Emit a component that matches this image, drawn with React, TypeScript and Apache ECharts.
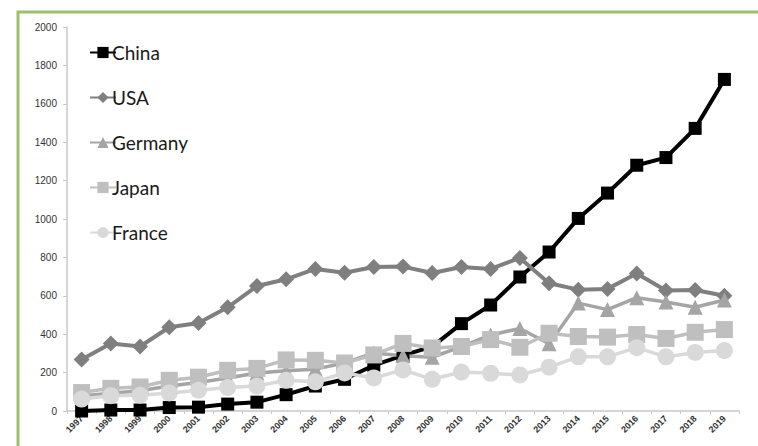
import React, { useEffect, useRef } from "react";
import * as echarts from "echarts";

const years = ["1997","1998","1999","2000","2001","2002","2003","2004","2005","2006","2007","2008","2009","2010","2011","2012","2013","2014","2015","2016","2017","2018","2019"];
const china = [0, 5, 5, 18, 20, 36, 46, 85, 130, 165, 238, 290, 335, 455, 552, 698, 828, 1003, 1135, 1280, 1320, 1472, 1727];
const usa = [268, 352, 336, 436, 458, 540, 651, 686, 740, 720, 750, 752, 719, 750, 740, 797, 665, 632, 636, 716, 628, 630, 600];
const germany = [78, 92, 105, 130, 148, 172, 198, 210, 218, 250, 302, 288, 280, 335, 396, 430, 350, 562, 528, 590, 568, 540, 578];
const japan = [96, 118, 125, 160, 176, 212, 222, 266, 264, 250, 292, 352, 328, 336, 372, 332, 405, 388, 385, 398, 378, 410, 424];
const france = [62, 80, 82, 94, 108, 122, 130, 160, 152, 198, 172, 214, 165, 203, 196, 188, 228, 282, 282, 330, 282, 305, 315];
const seriesNames = ["China", "USA", "Germany", "Japan", "France"];

export default function App() {
  const ref = useRef<HTMLDivElement>(null);
  useEffect(() => {
    if (!ref.current) return;
    const chart = echarts.init(ref.current, null, { renderer: "svg" });
    const mk = (name: string, data: number[], color: string, symbol: string, size: number, width: number) => ({
      name,
      type: "line",
      data,
      symbol,
      symbolSize: size,
      showAllSymbol: true,
      clip: false,
      itemStyle: { color },
      lineStyle: { color, width },
      emphasis: { disabled: true },
    });
    chart.setOption({
      animation: false,
      backgroundColor: "#ffffff",
      graphic: [
        {
          type: "rect",
          shape: { x: 18, y: 12, width: 900, height: 600 },
          style: { fill: "none", stroke: "#9dc06b", lineWidth: 3 },
          silent: true,
          z: -1,
        },
      ],
      grid: { left: 67, right: 19, top: 27, bottom: 35, containLabel: false },
      legend: {
        orient: "vertical",
        left: 84,
        top: 38,
        itemGap: 26,
        itemWidth: 26,
        itemHeight: 14,
        data: seriesNames,
        textStyle: { fontFamily: "Lato", fontSize: 19, color: "#1a1a1a", padding: [0, 0, 0, -9] },
      },
      xAxis: {
        type: "category",
        data: years,
        boundaryGap: true,
        axisLine: { lineStyle: { color: "#c8c8c8", width: 1.5 } },
        axisTick: { show: true, alignWithLabel: false, length: 3, lineStyle: { color: "#c8c8c8" } },
        axisLabel: {
          rotate: 45,
          interval: 0,
          fontSize: 9,
          fontWeight: "bold",
          color: "#333",
          fontFamily: "Liberation Sans",
          margin: 6,
        },
      },
      yAxis: {
        type: "value",
        min: 0,
        max: 2000,
        interval: 200,
        splitLine: { show: false },
        axisLine: { show: true, lineStyle: { color: "#c8c8c8", width: 1.5 } },
        axisTick: { show: true, length: 4, lineStyle: { color: "#c8c8c8" } },
        axisLabel: {
          fontSize: 10,
          color: "#333",
          fontFamily: "Liberation Sans",
          margin: 10,
          formatter: (v: number) => String(v),
        },
      },
      series: [
        mk("China", china, "#000000", "rect", 13, 4),
        mk("USA", usa, "#7f7f7f", "diamond", 16, 4),
        mk("Germany", germany, "#a5a5a5", "triangle", 15, 3.5),
        mk("Japan", japan, "#bfbfbf", "rect", 17, 3.5),
        mk("France", france, "#d9d9d9", "circle", 17, 3.5),
      ],
    });
    return () => chart.dispose();
  }, []);
  return (
    <div
      ref={ref}
      style={{ position: "fixed", left: 0, top: 0, width: 758, height: 446 }}
    />
  );
}
